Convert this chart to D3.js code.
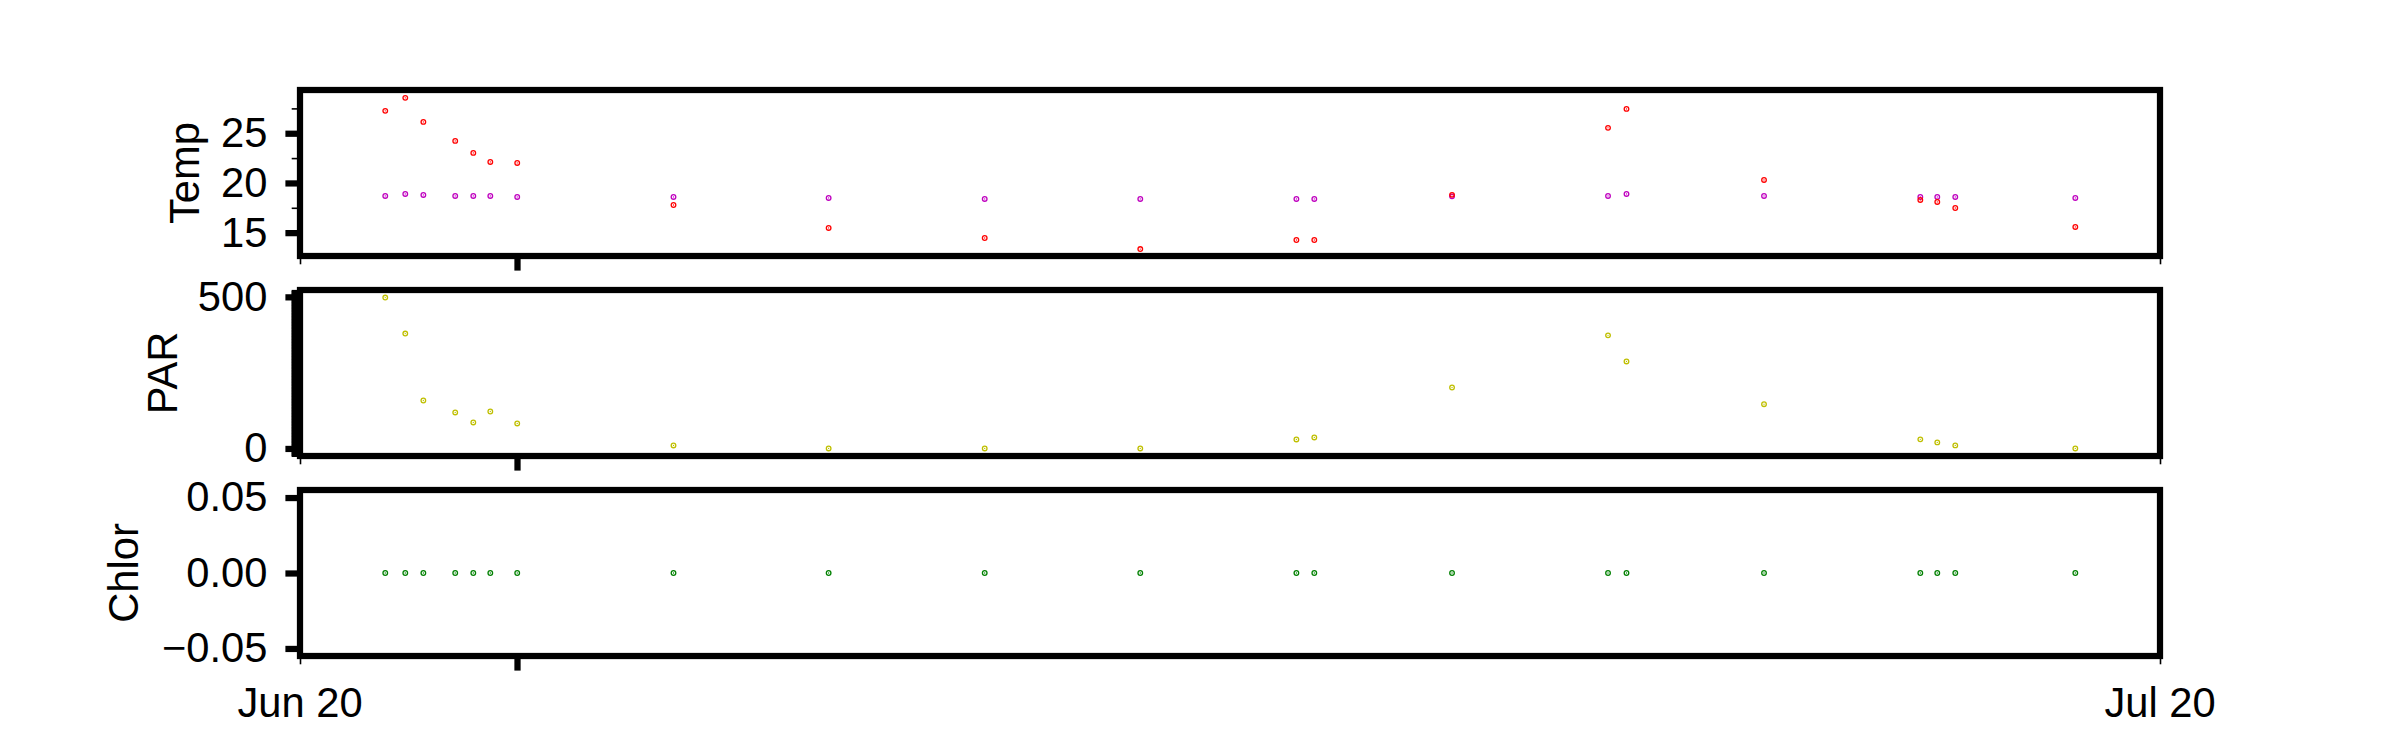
<!DOCTYPE html>
<html>
<head>
<meta charset="utf-8">
<script src="https://cdn.jsdelivr.net/npm/d3@7"></script>
<style>
  html, body { margin: 0; padding: 0; background: #fff; }
  svg { display: block; }
</style>
</head>
<body>
<svg id="chart" width="2400" height="750"></svg>
<script>
// ---------------- DATA ----------------
const sampleTimes = [
  "2021-06-21T09:00Z","2021-06-21T16:45Z","2021-06-21T23:45Z","2021-06-22T12:05Z","2021-06-22T19:05Z",
  "2021-06-23T01:40Z","2021-06-23T12:05Z","2021-06-26T00:35Z","2021-06-28T12:38Z","2021-07-01T01:03Z",
  "2021-07-03T13:16Z","2021-07-06T01:42Z","2021-07-06T08:38Z","2021-07-08T13:57Z","2021-07-11T02:20Z",
  "2021-07-11T09:29Z","2021-07-13T14:43Z","2021-07-16T03:13Z","2021-07-16T09:47Z","2021-07-16T16:45Z",
  "2021-07-18T15:13Z"
];
const tempRed = [27.25, 28.56, 26.14, 24.23, 23.02, 22.11, 22.01, 17.78, 15.47, 14.46,
                 13.35, 14.26, 14.26, 18.80, 25.54, 27.45, 20.30, 18.29, 18.09, 17.48, 15.57];
const tempMagenta = [18.69, 18.89, 18.79, 18.69, 18.69, 18.69, 18.59, 18.59, 18.49, 18.39,
                     18.39, 18.39, 18.39, 18.65, 18.69, 18.89, 18.69, 18.59, 18.59, 18.59, 18.49];
const parValues = [497.7, 379.0, 158.2, 118.7, 85.7, 121.9, 82.4, 9.9, 0, 0,
                   0, 29.7, 36.3, 201, 373, 287, 146, 30, 20, 10, 0];
const chlorValues = [0, 0, 0, 0, 0, 0, 0, 0, 0, 0, 0, 0, 0, 0, 0, 0, 0, 0, 0, 0, 0];

const xDomain = ["2021-06-20T00:00Z", "2021-07-20T00:00Z"];
const xLabelTicks = ["2021-06-20T00:00Z", "2021-07-20T00:00Z"];
const xLabelText = ["Jun 20", "Jul 20"];
const xMajorTicks = ["2021-06-23T12:00Z"];

const tempTicks = [15, 20, 25];
const tempMinorTicks = [17.5, 22.5, 27.5];
const parTicks = [0, 500];
const chlorTicks = [-0.05, 0, 0.05];
const chlorTickLabels = ["\u22120.05", "0.00", "0.05"];

// ---------------- LAYOUT ----------------
const FONT = "'Liberation Sans', Arial, Helvetica, sans-serif";
const FS = 41.7;
const SPINE = 6.25;
const MAJ_LEN = 14.6, MIN_LEN = 8.3, MIN_W = 1.6;
const left = 300, right = 2160;
const panels = [
  { top: 90,  bottom: 256 },
  { top: 290, bottom: 456 },
  { top: 490, bottom: 656 }
];

const svg = d3.select("#chart");
svg.append("rect").attr("width", 2400).attr("height", 750).attr("fill", "#fff");

const parse = d3.isoParse;
const times = sampleTimes.map(parse);
const x = d3.scaleUtc().domain(xDomain.map(parse)).range([left, right]);

const yTemp = d3.scaleLinear().domain([12.65, 29.35]).range([panels[0].bottom, panels[0].top]);
const yPar = d3.scaleLinear().domain([-24.9, 522.6]).range([panels[1].bottom, panels[1].top]);
const yChlor = d3.scaleLinear().domain([-0.055, 0.055]).range([panels[2].bottom, panels[2].top]);

const parMinor = d3.range(-24, 523, 2);

function styleAxis(g, width) {
  g.select(".domain").remove();
  g.attr("font-family", FONT).attr("font-size", FS);
  g.selectAll(".tick line").attr("stroke", "#000").attr("stroke-width", width);
  g.selectAll(".tick text").attr("fill", "#000");
}

function drawYAxis(scale, major, fmt, minor) {
  if (minor) {
    const gm = svg.append("g").attr("transform", `translate(${left},0)`);
    gm.call(d3.axisLeft(scale).tickValues(minor).tickSize(MIN_LEN).tickFormat(""));
    styleAxis(gm, MIN_W);
  }
  const g = svg.append("g").attr("transform", `translate(${left},0)`);
  g.call(d3.axisLeft(scale).tickValues(major).tickSize(MAJ_LEN).tickPadding(18).tickFormat(fmt));
  styleAxis(g, SPINE);
}

function drawXTicks(p, withLabels) {
  const gm = svg.append("g").attr("transform", `translate(0,${p.bottom})`);
  gm.call(d3.axisBottom(x).tickValues(xLabelTicks.map(parse)).tickSize(MIN_LEN).tickFormat(""));
  styleAxis(gm, MIN_W);
  const g = svg.append("g").attr("transform", `translate(0,${p.bottom})`);
  g.call(d3.axisBottom(x).tickValues(xMajorTicks.map(parse)).tickSize(MAJ_LEN).tickFormat(""));
  styleAxis(g, SPINE);
  if (withLabels) {
    svg.append("g").selectAll("text").data(xLabelTicks).join("text")
      .attr("x", d => x(parse(d)))
      .attr("y", p.bottom + 61)
      .attr("text-anchor", "middle")
      .attr("font-family", FONT).attr("font-size", FS).attr("fill", "#000")
      .text((d, i) => xLabelText[i]);
  }
}

drawYAxis(yTemp, tempTicks, d3.format("d"), tempMinorTicks);
drawYAxis(yPar, parTicks, d3.format("d"), parMinor);
drawYAxis(yChlor, chlorTicks, (d, i) => chlorTickLabels[i], null);
panels.forEach((p, i) => drawXTicks(p, i === 2));

// y labels
const yLabels = [
  { text: "Temp",  x: 199, p: panels[0] },
  { text: "PAR",   x: 177, p: panels[1] },
  { text: "Chlor", x: 138, p: panels[2] }
];
yLabels.forEach(l => {
  svg.append("text")
    .attr("transform", `translate(${l.x},${(l.p.top + l.p.bottom) / 2}) rotate(-90)`)
    .attr("text-anchor", "middle")
    .attr("font-family", FONT).attr("font-size", FS).attr("fill", "#000")
    .text(l.text);
});

// spines
panels.forEach(p => {
  svg.append("rect")
    .attr("x", left).attr("y", p.top)
    .attr("width", right - left).attr("height", p.bottom - p.top)
    .attr("fill", "none").attr("stroke", "#000").attr("stroke-width", SPINE);
});

// markers
function drawPoints(values, yScale, color) {
  const g = svg.append("g");
  const pts = values.map((v, i) => ({ t: times[i], v }));
  g.selectAll("circle.ring").data(pts).join("circle")
    .attr("class", "ring")
    .attr("cx", d => x(d.t)).attr("cy", d => yScale(d.v))
    .attr("r", 2.3).attr("fill", "none").attr("stroke", color).attr("stroke-width", 1.3);
  g.selectAll("circle.dot").data(pts).join("circle")
    .attr("class", "dot")
    .attr("cx", d => x(d.t)).attr("cy", d => yScale(d.v))
    .attr("r", 0.65).attr("fill", color);
}
drawPoints(tempMagenta, yTemp, "#bf00bf");
drawPoints(tempRed, yTemp, "#ff0000");
drawPoints(parValues, yPar, "#bfbf00");
drawPoints(chlorValues, yChlor, "#008000");
</script>
</body>
</html>
